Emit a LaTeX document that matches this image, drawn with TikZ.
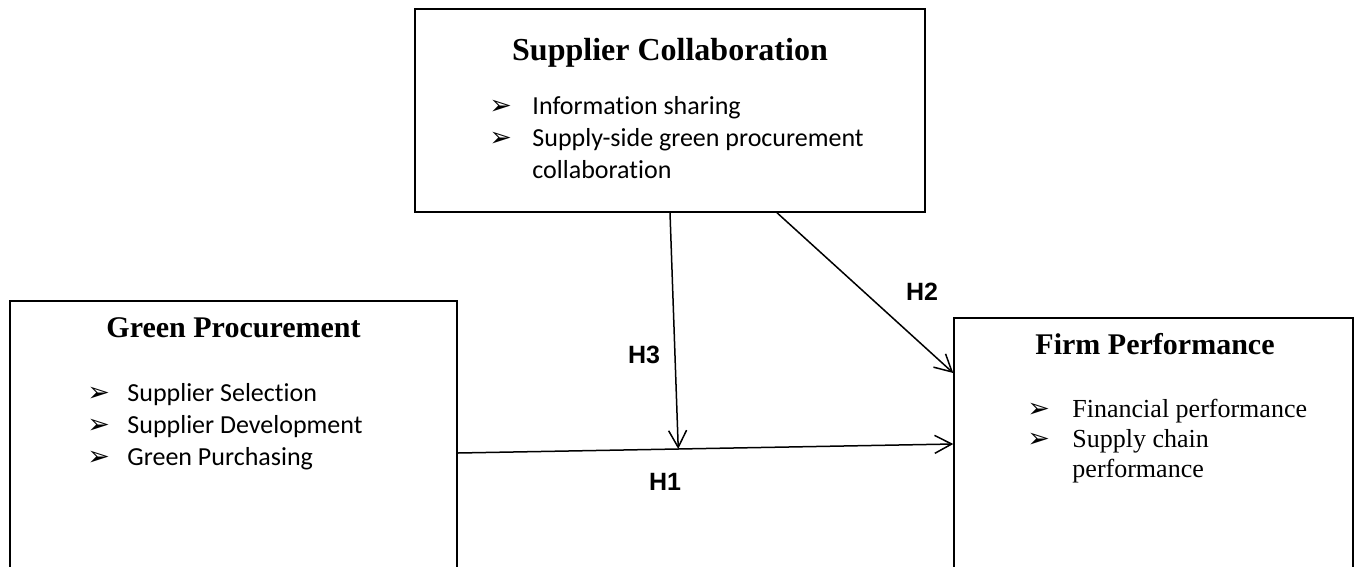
\documentclass[tikz,border=0pt]{standalone}
\usepackage{fontspec}
\setmainfont{Liberation Serif}
\newfontfamily\bodyfont[Ligatures=CommonOff]{Carlito}
\newfontfamily\hypfont{Liberation Sans}
\newfontfamily\symfont{DejaVu Sans}
\usetikzlibrary{positioning,arrows.meta}

\newcommand{\pointer}[1]{\makebox[#1][l]{\fontsize{27}{27}\symfont ➢}}

\tikzset{
	box/.style={draw, line width=1.5pt, inner sep=0pt},
	heading/.style={font=\fontsize{30}{36}\selectfont\bfseries, anchor=base, inner sep=0pt},
	items/.style={anchor=base west, inner sep=0pt, align=left},
	hyp/.style={font=\hypfont\bfseries\fontsize{25}{30}\selectfont, inner sep=0pt},
	link/.style={-{Straight Barb[length=17pt,width=18pt]}, line width=1.5pt}
}

\begin{document}
\begin{tikzpicture}[x=1pt,y=-1pt]
	\useasboundingbox (0,0) rectangle (1356,566);
	
	% the three constructs
	\node[box, minimum width=510pt, minimum height=203pt] (sc) at (670,110.5) {};
	\node[box, minimum width=447pt, minimum height=304pt] (gp) at (233.5,453) {};
	\node[box, minimum width=399pt, minimum height=252pt] (fp) at (1153.5,444) {};
	
	\node[heading, font=\fontsize{32}{38}\selectfont\bfseries] (sctitle) at ([yshift=-52pt]sc.north) {Supplier Collaboration};
	\node[heading] (gptitle) at ([yshift=-37pt]gp.north) {Green Procurement};
	\node[heading] (fptitle) at ([xshift=1.5pt,yshift=-37pt]fp.north) {Firm Performance};
	
	\node[items, font=\bodyfont\fontsize{26}{32}\selectfont] (scitems) at ([xshift=75pt,yshift=-106pt]sc.north west) {%
		\begin{tabular}[t]{@{}l@{}l@{}}
			\pointer{43pt} & Information sharing\\
			\pointer{43pt} & Supply-side green procurement\\
			& collaboration
		\end{tabular}};
	\node[items, font=\bodyfont\fontsize{26}{32}\selectfont] (gpitems) at ([xshift=78pt,yshift=-101pt]gp.north west) {%
		\begin{tabular}[t]{@{}l@{}l@{}}
			\pointer{40pt} & Supplier Selection\\
			\pointer{40pt} & Supplier Development\\
			\pointer{40pt} & Green Purchasing
		\end{tabular}};
	\node[items, font=\fontsize{26}{30}\selectfont] (fpitems) at ([xshift=74pt,yshift=-100pt]fp.north west) {%
		\begin{tabular}[t]{@{}l@{}l@{}}
			\pointer{45pt} & Financial performance\\
			\pointer{45pt} & Supply chain\\
			& performance
		\end{tabular}};
	
	% hypotheses
	\draw[link] (gp.east) -- coordinate[pos=0.445] (join) (fp.west);
	\draw[link] (sc.south) -- (join);
	\draw[link] ([xshift=107pt]sc.south) -- ([yshift=71pt]fp.west);
	
	\node[hyp] (h1) at (665,482) {H1};
	\node[hyp] (h2) at (922,292) {H2};
	\node[hyp] (h3) at (644,355) {H3};
	
\end{tikzpicture}
\end{document}
